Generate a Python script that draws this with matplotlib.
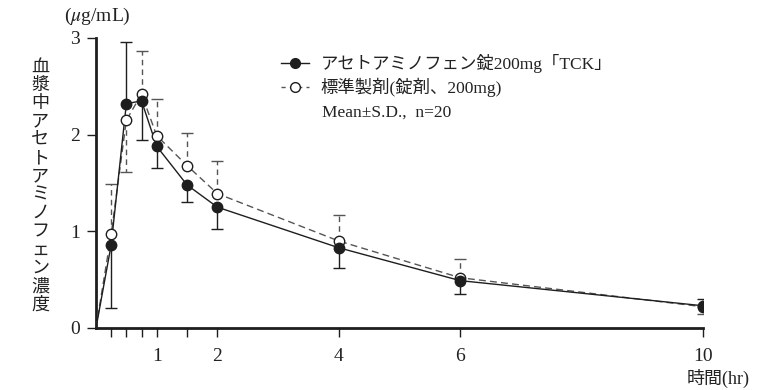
import numpy as np
import matplotlib
matplotlib.use("Agg")
import matplotlib.pyplot as plt
from matplotlib.lines import Line2D

plt.rcParams['font.family'] = ['Liberation Serif', 'Noto Sans CJK JP']
plt.rcParams['mathtext.fontset'] = 'stix'

# time (hr)
t = np.array([0, 0.25, 0.5, 0.75, 1, 1.5, 2, 4, 6, 10])
# acetaminophen tablet 200mg "TCK"
tck_mean = np.array([0, 0.86, 2.32, 2.35, 1.88, 1.48, 1.25, 0.83, 0.49, 0.23])
tck_sd = np.array([0, 0.65, 0.64, 0.40, 0.22, 0.18, 0.23, 0.21, 0.14, 0.07])
# reference product
std_mean = np.array([0, 0.97, 2.15, 2.42, 1.99, 1.68, 1.39, 0.90, 0.52, 0.22])
std_sd = np.array([0, 0.52, 0.54, 0.45, 0.38, 0.34, 0.34, 0.27, 0.19, 0.08])

xticks = [0.25, 0.5, 0.75, 1, 1.5, 2, 4, 6, 10]
xticklabels = ['', '', '', '1', '', '2', '4', '6', '10']
yticks = [0, 1, 2, 3]

label_tck = 'アセトアミノフェン錠200mg「TCK」'
label_std = '標準製剤(錠剤、200mg)'

txt = '#222222'
dark = '#1e1e1e'
grey = '#555555'

W, H = 757, 390
fig = plt.figure(figsize=(W / 100, H / 100), dpi=100)
ax = fig.add_axes([96 / W, 1 - 328 / H, (703 - 96) / W, (328 - 38) / H])

# error bars go away from the other series
sgn_tck = np.where(tck_mean >= std_mean, 1, -1)
sgn_std = -sgn_tck
end_tck = tck_mean + sgn_tck * tck_sd
end_std = std_mean + sgn_std * std_sd
m = slice(1, None)

ax.vlines(t[m], std_mean[m], end_std[m], colors=grey, linestyles=(0, (4, 3)), lw=1.0, zorder=2)
ax.plot(t[m], end_std[m], ls='none', marker='_', ms=8, mew=1.0, color=grey, zorder=2)
ax.vlines(t[m], tck_mean[m], end_tck[m], colors=dark, lw=1.0, zorder=2)
ax.plot(t[m], end_tck[m], ls='none', marker='_', ms=8, mew=1.0, color=dark, zorder=2)

ax.plot(t, std_mean, color=grey, lw=1.0, ls=(0, (5, 3)), zorder=3)
ax.plot(t, tck_mean, color=dark, lw=1.0, zorder=3)
ax.plot(t[m], std_mean[m], ls='none', marker='o', ms=7.5, mfc='white', mec=dark, mew=1.0, zorder=4)
ax.plot(t[m], tck_mean[m], ls='none', marker='o', ms=7.5, mfc=dark, mec=dark, mew=1.0, zorder=5)

ax.set_xlim(0, 10)
ax.set_ylim(0, 3)
ax.set_xticks(xticks)
ax.set_xticklabels(xticklabels)
ax.set_yticks(yticks)
for s in ['top', 'right']:
    ax.spines[s].set_visible(False)
for s in ['left', 'bottom']:
    ax.spines[s].set_linewidth(2.0)
    ax.spines[s].set_color(dark)
ax.tick_params(direction='out', length=6.5, width=1.0, color=dark,
               labelsize=14, labelcolor=txt, pad=5)
ax.tick_params(axis='x', pad=8)

h1 = Line2D([], [], color=dark, lw=1.0, marker='o', ms=7, mfc=dark, mec=dark)
h2 = Line2D([], [], color=grey, lw=1.0, ls=(0, (3, 3)), marker='o', ms=7, mfc='white', mec=dark)
leg = ax.legend([h1, h2], [label_tck, label_std], loc='upper left',
                bbox_to_anchor=(281 / W, 1 - 54 / H), bbox_transform=fig.transFigure,
                frameon=False, fontsize=12.5, handlelength=1.6, handletextpad=0.7,
                labelspacing=0.3, borderpad=0, borderaxespad=0)
for tx in leg.get_texts():
    tx.set_color(txt)

fig.text(322 / W, 1 - 113 / H, 'Mean±S.D.,  n=20', fontsize=12.5, color=txt,
         va='center', ha='left')
fig.text(97 / W, 1 - 16 / H, r'($\mu$g/mL)', fontsize=14, color=txt,
         ha='center', va='center')
fig.text(40 / W, 1 - 186 / H, '\n'.join('血漿中アセトアミノフェン濃度'),
         fontsize=13, color=txt, ha='center', va='center', linespacing=1.1)
fig.text(718 / W, 1 - 378 / H, '時間(hr)', fontsize=13, color=txt,
         ha='center', va='center')

fig.savefig('out.png', dpi=100)
